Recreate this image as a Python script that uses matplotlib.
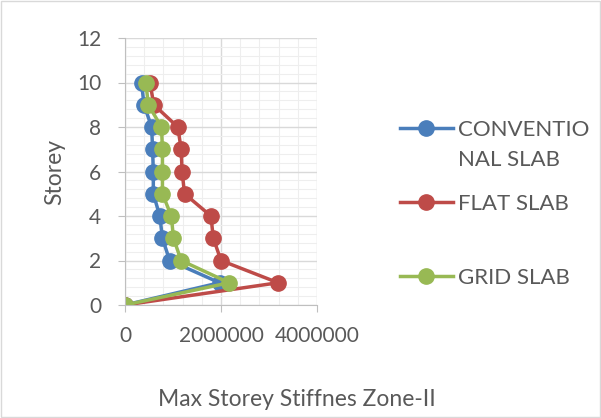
import matplotlib.pyplot as plt
from matplotlib.lines import Line2D
from matplotlib.patches import Rectangle
from matplotlib.ticker import MultipleLocator

# =====================================================
# Data
# =====================================================

storey = [0, 1, 2, 3, 4, 5, 6, 7, 8, 9, 10]

conventional = [0, 1970000, 930000, 780000, 725000, 590000, 590000, 575000, 555000, 395000, 345000]
flat = [0, 3190000, 2000000, 1840000, 1790000, 1240000, 1190000, 1170000, 1100000, 600000, 520000]
grid = [0, 2170000, 1170000, 1010000, 965000, 780000, 780000, 780000, 760000, 485000, 435000]

labels = [["CONVENTIO", "NAL SLAB"], ["FLAT SLAB"], ["GRID SLAB"]]
colors = ["#4a7ebb", "#be4b48", "#98b954"]

x_ticks = [0, 2000000, 4000000]
x_tick_labels = ["0", "2000000", "4000000"]

# =====================================================
# Figure
# =====================================================

plt.rcParams["font.family"] = ["Lato", "DejaVu Sans"]
text_color = "#595959"

W, H = 601, 418
fig = plt.figure(figsize=(W / 100, H / 100), dpi=100)
ax = fig.add_axes([125 / W, 1 - 305 / H, 192 / W, 267 / H])

for values, color in zip([conventional, flat, grid], colors):
    ax.plot(values, storey, color=color, linewidth=2.5,
            marker="o", markersize=11)

ax.set_xlim(0, 4000000)
ax.set_ylim(0, 12)

ax.set_xticks(x_ticks)
ax.set_xticklabels(x_tick_labels)
ax.xaxis.set_minor_locator(MultipleLocator(400000))
ax.yaxis.set_major_locator(MultipleLocator(2))
ax.yaxis.set_minor_locator(MultipleLocator(0.4))

ax.grid(which="major", color="#d9d9d9", linewidth=1)
ax.grid(which="minor", color="#eeeeee", linewidth=0.8)
ax.set_axisbelow(True)

for side in ["top", "right"]:
    ax.spines[side].set_visible(False)
for side in ["left", "bottom"]:
    ax.spines[side].set_color("#bfbfbf")

ax.tick_params(which="major", length=5, color="#bfbfbf",
               labelsize=15, labelcolor=text_color)
ax.tick_params(axis="x", pad=10)
ax.tick_params(axis="y", pad=12)
ax.tick_params(which="minor", length=0)

# axis titles
fig.text(55 / W, 1 - 172 / H, "Storey", rotation=90, fontsize=16.5,
         color=text_color, ha="center", va="center")
fig.text(297 / W, 1 - 400 / H, "Max Storey Stiffnes Zone-II", fontsize=16.5,
         color=text_color, ha="center", va="center")

# =====================================================
# Legend (first line of a wrapped label sits beside the key)
# =====================================================

entry_y = [128, 202, 276]
for label_lines, color, y in zip(labels, colors, entry_y):
    fy = 1 - y / H
    fig.add_artist(Line2D([400 / W, 453 / W], [fy, fy], color=color,
                          linewidth=2.5, transform=fig.transFigure))
    fig.add_artist(Line2D([426 / W], [fy], color=color, marker="o",
                          markersize=11, transform=fig.transFigure))
    for i, line in enumerate(label_lines):
        fig.text(458 / W, 1 - (y + 30 * i) / H, line, fontsize=16,
                 color=text_color, ha="left", va="center_baseline")

fig.patches.append(Rectangle((0.002, 0.002), 0.996, 0.996,
                             transform=fig.transFigure, fill=False,
                             edgecolor="#d9d9d9", linewidth=1))

plt.savefig("out.png", dpi=100)
